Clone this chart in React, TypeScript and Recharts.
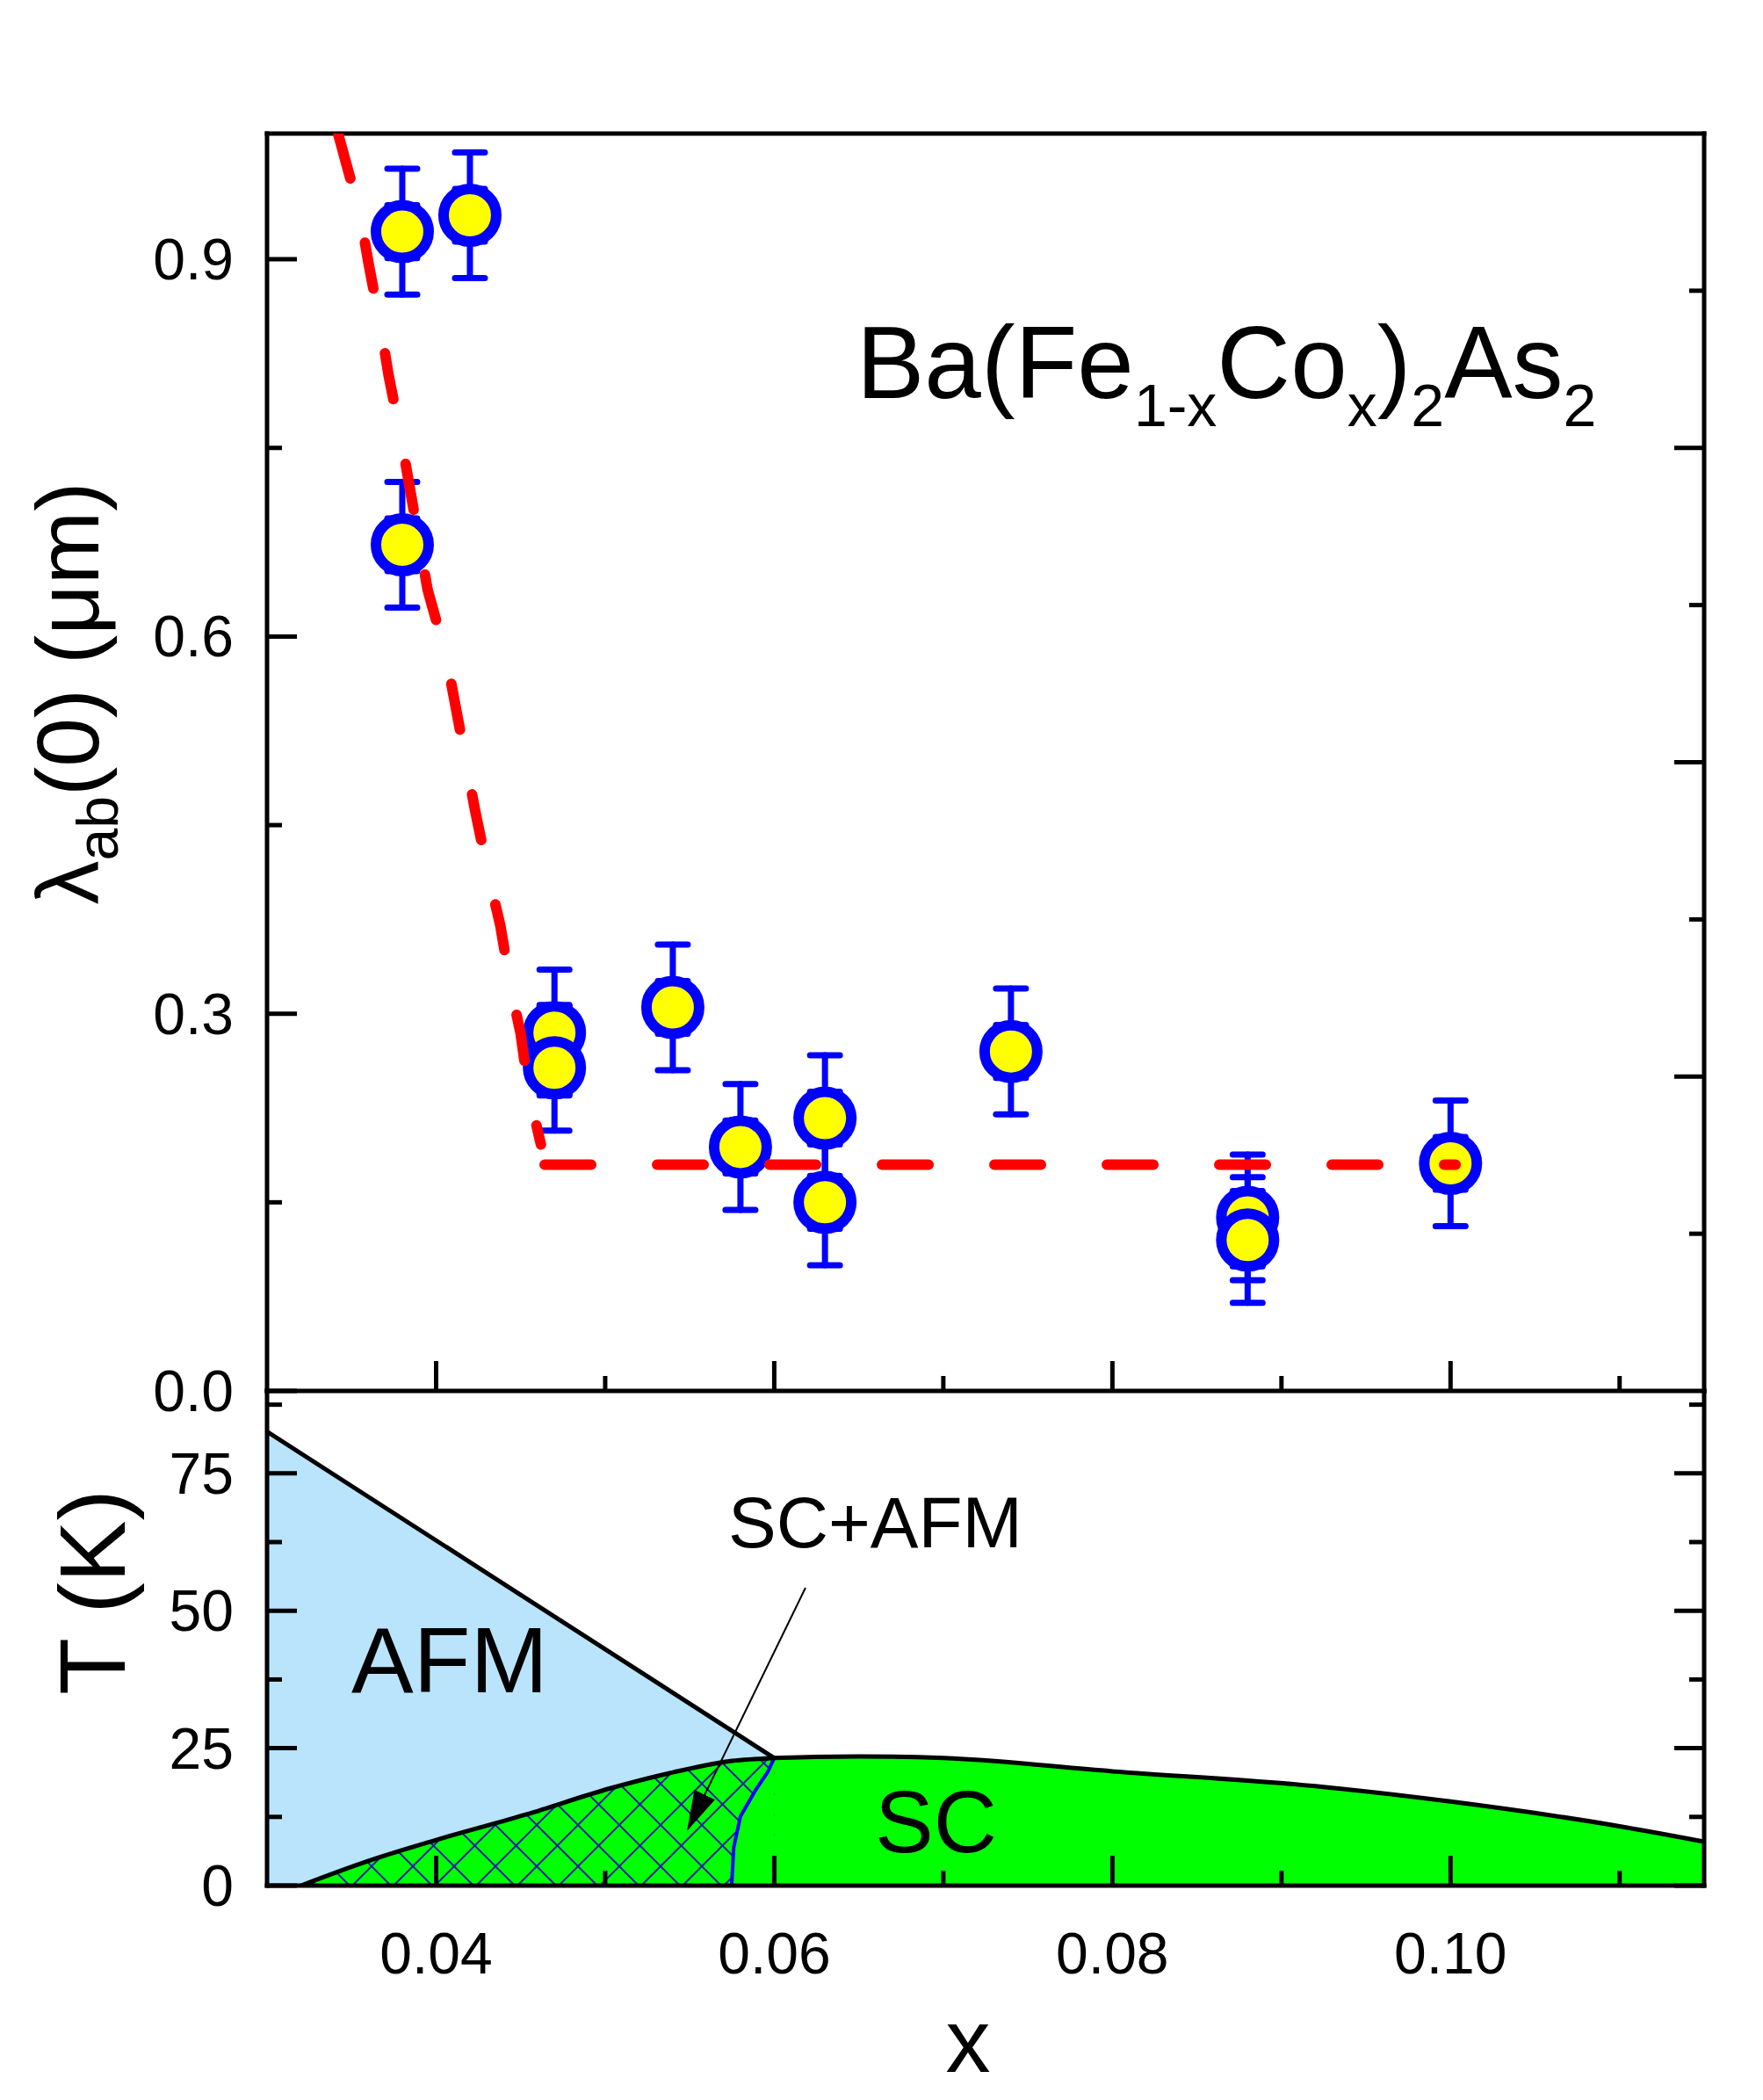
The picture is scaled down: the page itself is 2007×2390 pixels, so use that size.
import React from 'react';
import { ComposedChart, XAxis, YAxis, Scatter, ErrorBar, Line, Area } from 'recharts';

// ---- upper panel: penetration depth lambda_ab(0) vs x ----
const DOPING = [0.038, 0.042, 0.038, 0.047, 0.047, 0.054, 0.058, 0.063, 0.063, 0.074, 0.088, 0.088, 0.1];
const LAMBDA = [0.922, 0.935, 0.673, 0.285, 0.257, 0.305, 0.194, 0.217, 0.15, 0.27, 0.138, 0.12, 0.181];
const LAMBDA_ERR = [0.05, 0.05, 0.05, 0.05, 0.05, 0.05, 0.05, 0.05, 0.05, 0.05, 0.05, 0.05, 0.05];

// dashed guide line (steep branch + flat branch)
const STEEP_X = [0.0342, 0.0355, 0.036, 0.0367, 0.0372, 0.0379, 0.0395, 0.0406, 0.0423, 0.0431, 0.0434, 0.0438, 0.0444, 0.045, 0.0455, 0.0462];
const STEEP_Y = [1.0, 0.936, 0.897, 0.848, 0.807, 0.76, 0.637, 0.584, 0.462, 0.41, 0.393, 0.37, 0.322, 0.284, 0.236, 0.196];
const FLAT_X = [0.04642, 0.1003];
const FLAT_Y = [0.18, 0.18];

// ---- lower panel: phase diagram ----
const AFM_X = [0.03, 0.045, 0.06];
const AFM_T = [82.6, 52.9, 23.2];
const DOME_X = [0.032, 0.036, 0.04, 0.0454, 0.0503, 0.054, 0.0575, 0.06, 0.065, 0.07, 0.08, 0.092, 0.1, 0.11, 0.115];
const DOME_T = [0, 4.5, 8.3, 13.0, 17.7, 20.6, 22.7, 23.2, 23.5, 23.2, 20.8, 18.1, 15.3, 10.8, 8.0];
// SC / SC+AFM boundary
const BND_X = [0.05748, 0.0576, 0.058, 0.0589, 0.0596, 0.06];
const BND_T = [0, 6.9, 12.6, 17.4, 20.6, 23.2];

// ticks
const X_TICKS = [0.04, 0.05, 0.06, 0.07, 0.08, 0.09, 0.1, 0.11];
const X_MAJOR = [0.04, 0.06, 0.08, 0.1];
const TOP_TICKS = [0.8, 1.8, 2.8, 3.8, 4.8, 5.8, 6.8, 7.8];
const TOP_MAJOR = [1.8, 3.8, 5.8, 7.8];
const L_TICKS = [0, 0.15, 0.3, 0.45, 0.6, 0.75, 0.9];
const L_MAJOR = [0, 0.3, 0.6, 0.9];
const R_TICKS = [1, 2, 3, 4, 5, 6, 7];
const R_MAJOR = [2, 4, 6];
const T_TICKS = [0, 12.5, 25, 37.5, 50, 62.5, 75, 87.5];
const T_MAJOR = [0, 25, 50, 75];

const points = DOPING.map((x, i) => ({ x, y: LAMBDA[i], err: LAMBDA_ERR[i] }));
const steep = STEEP_X.map((x, i) => ({ x, y: STEEP_Y[i] }));
const flat = FLAT_X.map((x, i) => ({ x, y: FLAT_Y[i] }));
const afm = AFM_X.map((x, i) => ({ x, t: AFM_T[i] }));
const dome = DOME_X.map((x, i) => ({ x, t: DOME_T[i] }));
const mixed = dome.filter((d) => d.x <= 0.06);
const bnd = BND_X.map((x, i) => ({ x, t: BND_T[i] }));

const FONT = '"Liberation Sans", Arial, sans-serif';
const FRAME = { stroke: '#000', strokeWidth: 5, strokeLinecap: 'square' as const };
const BAR_GAP = 0.021; // error bars start at the marker ring

type Side = 'top' | 'bottom' | 'left' | 'right';

function makeTick(side: Side, majors: number[], fmt?: (v: number) => string) {
  return function Tick(props: any) {
    const { x, y, payload } = props;
    const v = Number(payload.value);
    const major = majors.some((m) => Math.abs(m - v) < 1e-9);
    const len = major ? 34 : 17;
    let x2 = x;
    let y2 = y;
    if (side === 'bottom') y2 = y - len;
    if (side === 'top') y2 = y + len;
    if (side === 'left') x2 = x + len;
    if (side === 'right') x2 = x - len;
    let label = null;
    if (fmt && major) {
      label =
        side === 'bottom' ? (
          <text x={x} y={y + 100} textAnchor="middle" fontSize={66} fill="#000" fontFamily={FONT}>
            {fmt(v)}
          </text>
        ) : (
          <text x={x - 38} y={y + 23} textAnchor="end" fontSize={66} fill="#000" fontFamily={FONT}>
            {fmt(v)}
          </text>
        );
    }
    return (
      <g>
        <line x1={x} y1={y} x2={x2} y2={y2} stroke="#000" strokeWidth={5} />
        {label}
      </g>
    );
  };
}

const Marker = (p: any) => <circle cx={p.cx} cy={p.cy} r={30} fill="#ffff00" stroke="#0000ff" strokeWidth={12} />;
const NoMarker = () => <g />;

// axes are 1px deep so that recharts still draws them; margins compensate
const axisCommon = {
  type: 'number' as const,
  interval: 0 as const,
  tickSize: 0,
  tickMargin: 0,
  tickLine: false,
  axisLine: FRAME,
  allowDataOverflow: true,
};

export default function App() {
  return (
    <div style={{ position: 'absolute', left: 0, top: 0, width: 2007, height: 2390, background: '#fff', fontFamily: FONT }}>
      <div style={{ position: 'absolute', left: 0, top: 0 }}>
        <ComposedChart width={2007} height={1620} margin={{ top: 151, right: 66, bottom: 36, left: 303 }}>
          <XAxis xAxisId="x" dataKey="x" domain={[0.03, 0.115]} ticks={X_TICKS} height={1} tick={makeTick('bottom', X_MAJOR)} {...axisCommon} />
          <XAxis xAxisId="top" orientation="top" domain={[0, 8]} ticks={TOP_TICKS} height={1} tick={makeTick('top', TOP_MAJOR)} {...axisCommon} />
          <YAxis yAxisId="l" dataKey="y" domain={[0, 1]} ticks={L_TICKS} width={1} tick={makeTick('left', L_MAJOR, (v) => v.toFixed(1))} {...axisCommon} />
          <YAxis yAxisId="r" orientation="right" domain={[0, 8]} ticks={R_TICKS} width={1} tick={makeTick('right', R_MAJOR)} {...axisCommon} />
          <Scatter xAxisId="x" yAxisId="l" data={points} shape={Marker} isAnimationActive={false} zIndex={600} />
          <Scatter xAxisId="x" yAxisId="l" data={points} shape={NoMarker} isAnimationActive={false} zIndex={650}>
            <ErrorBar dataKey={(d: any) => [-BAR_GAP, d.err]} direction="y" width={17} stroke="#0000ff" strokeWidth={7} strokeLinecap="round" isAnimationActive={false} />
            <ErrorBar dataKey={(d: any) => [d.err, -BAR_GAP]} direction="y" width={17} stroke="#0000ff" strokeWidth={7} strokeLinecap="round" isAnimationActive={false} />
          </Scatter>
          <Line xAxisId="x" yAxisId="l" data={steep} dataKey="y" type="linear" stroke="#ff0000" strokeWidth={12} strokeDasharray="53 75" strokeLinecap="round" dot={false} activeDot={false} isAnimationActive={false} zIndex={700} />
          <Line xAxisId="x" yAxisId="l" data={flat} dataKey="y" type="linear" stroke="#ff0000" strokeWidth={12} strokeDasharray="53 75" strokeLinecap="round" dot={false} activeDot={false} isAnimationActive={false} zIndex={700} />
        </ComposedChart>
      </div>

      <div style={{ position: 'absolute', left: 0, top: 1560 }}>
        <ComposedChart width={2007} height={830} margin={{ top: 23, right: 66, bottom: 243, left: 303 }}>
          <defs>
            <pattern id="xhatch" width={47} height={47} patternUnits="userSpaceOnUse">
              <rect width={47} height={47} fill="#00ff00" />
              <path d="M-4,-4L51,51M51,-4L-4,51" stroke="#1f1fa5" strokeWidth={2} />
            </pattern>
          </defs>
          <XAxis xAxisId="x" dataKey="x" domain={[0.03, 0.115]} ticks={X_TICKS} height={1} tick={makeTick('bottom', X_MAJOR, (v) => v.toFixed(2))} {...axisCommon} />
          <YAxis yAxisId="l" domain={[0, 90]} ticks={T_TICKS} width={1} tick={makeTick('left', T_MAJOR, (v) => String(v))} {...axisCommon} />
          <YAxis yAxisId="r" orientation="right" domain={[0, 90]} ticks={T_TICKS} width={1} tick={makeTick('right', T_MAJOR)} {...axisCommon} />
          <Area xAxisId="x" yAxisId="l" data={afm} dataKey="t" type="linear" fill="#bae4fc" fillOpacity={1} stroke="#000" strokeWidth={5} dot={false} activeDot={false} isAnimationActive={false} zIndex={100} />
          <Area xAxisId="x" yAxisId="l" data={dome} dataKey="t" type="monotone" fill="#00ff00" fillOpacity={1} stroke="none" dot={false} activeDot={false} isAnimationActive={false} zIndex={110} />
          <Area xAxisId="x" yAxisId="l" data={mixed} dataKey="t" type="monotone" fill="url(#xhatch)" fillOpacity={1} stroke="none" dot={false} activeDot={false} isAnimationActive={false} zIndex={120} />
          <Area xAxisId="x" yAxisId="l" data={bnd} dataKey="t" type="linear" fill="#00ff00" fillOpacity={1} stroke="#0000ff" strokeWidth={4} dot={false} activeDot={false} isAnimationActive={false} zIndex={130} />
          <Line xAxisId="x" yAxisId="l" data={dome} dataKey="t" type="monotone" stroke="#000" strokeWidth={5} dot={false} activeDot={false} isAnimationActive={false} zIndex={400} />
        </ComposedChart>
      </div>

      <svg width={2007} height={2390} style={{ position: 'absolute', left: 0, top: 0, pointerEvents: 'none' }} fontFamily={FONT}>
        <defs>
          <marker id="head" markerUnits="userSpaceOnUse" markerWidth={46} markerHeight={26} refX={44} refY={13} orient="auto">
            <path d="M0,0 L46,13 L0,26 Z" fill="#000" />
          </marker>
        </defs>
        <text x={975} y={453} fontSize={116} fill="#000">
          Ba(Fe
          <tspan fontSize={68} dy={32}>1-x</tspan>
          <tspan dy={-32}>Co</tspan>
          <tspan fontSize={68} dy={32}>x</tspan>
          <tspan dy={-32}>)</tspan>
          <tspan fontSize={68} dy={32}>2</tspan>
          <tspan dy={-32}>As</tspan>
          <tspan fontSize={68} dy={32}>2</tspan>
        </text>
        <text transform="translate(112,789) rotate(-90)" textAnchor="middle" fontSize={100} fill="#000">
          λ<tspan fontSize={66} dy={22}>ab</tspan>
          <tspan dy={-22}>(0) (μm)</tspan>
        </text>
        <text transform="translate(142,1812) rotate(-90)" textAnchor="middle" fontSize={106} fill="#000">
          T (K)
        </text>
        <text x={1102} y={2358} textAnchor="middle" fontSize={102} fill="#000">
          x
        </text>
        <text x={400} y={1926} fontSize={106} fill="#000">AFM</text>
        <text x={996} y={2108} fontSize={100} fill="#000">SC</text>
        <text x={829} y={1761} fontSize={82} fill="#000">SC+AFM</text>
        <line x1={917} y1={1807} x2={783} y2={2082} stroke="#000" strokeWidth={2} markerEnd="url(#head)" />
      </svg>
    </div>
  );
}
